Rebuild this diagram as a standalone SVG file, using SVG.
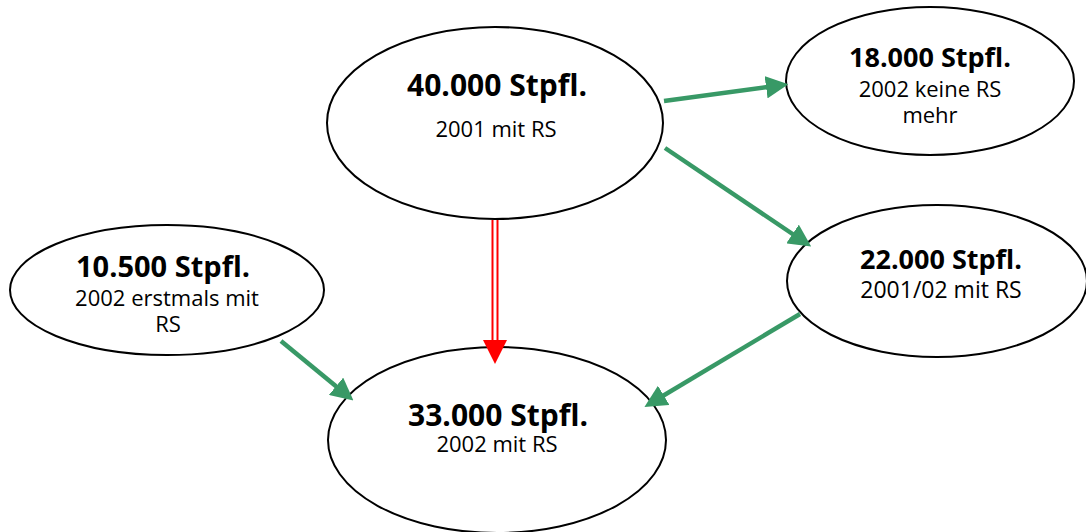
<svg xmlns="http://www.w3.org/2000/svg" width="1086" height="532" viewBox="0 0 1086 532">
<style>
.n{fill:#fff;stroke:#000;stroke-width:2}
.t{font-family:"Open Sans","Noto Sans",sans-serif;fill:#000;text-anchor:middle}
.b{font-weight:bold;font-size:30px}
.b2{font-weight:bold;font-size:27px}
.s{font-size:22px}
.g{stroke:#389966;stroke-width:4.5;fill:none}
</style>
<defs>
<marker id="ag" markerWidth="5" markerHeight="5" refX="2" refY="2.5" orient="auto" markerUnits="strokeWidth">
<path d="M0,0 L5,2.5 L0,5 Z" fill="#389966"/>
</marker>
</defs>
<rect width="1086" height="532" fill="#fff"/>
<g id="n40"><ellipse class="n" cx="495" cy="123" rx="168" ry="96"/>
<text class="t b" x="497" y="96">40.000 Stpfl.</text>
<text class="t s" x="496" y="137">2001 mit RS</text></g>
<g id="n18"><ellipse class="n" cx="930" cy="81" rx="144" ry="74"/>
<text class="t b2" x="930" y="67">18.000 Stpfl.</text>
<text class="t s" x="930" y="97">2002 keine RS</text>
<text class="t s" x="930" y="123">mehr</text></g>
<g id="n22"><ellipse class="n" cx="937" cy="281" rx="150" ry="76"/>
<text class="t b2" x="941" y="269">22.000 Stpfl.</text>
<text class="t s" x="941" y="298" style="font-size:23px">2001/02 mit RS</text></g>
<g id="n105"><ellipse class="n" cx="167" cy="290" rx="157" ry="65"/>
<text class="t b" x="163" y="277" style="font-size:29px">10.500 Stpfl.</text>
<text class="t s" x="167" y="306">2002 erstmals mit</text>
<text class="t s" x="168" y="332">RS</text></g>
<g id="n33"><ellipse class="n" cx="497" cy="440" rx="169" ry="93"/>
<text class="t b" x="498" y="426">33.000 Stpfl.</text>
<text class="t s" x="497" y="452">2002 mit RS</text></g>
<g id="connectors">
<line class="g" x1="664" y1="101" x2="775" y2="86" marker-end="url(#ag)"/>
<line class="g" x1="665" y1="148" x2="800" y2="239" marker-end="url(#ag)"/>
<line class="g" x1="281" y1="341" x2="343" y2="392" marker-end="url(#ag)"/>
<line class="g" x1="800" y1="314" x2="656" y2="400" marker-end="url(#ag)"/>
<line x1="492.5" y1="220" x2="492.5" y2="342" stroke="#f00" stroke-width="2"/>
<line x1="497.5" y1="220" x2="497.5" y2="342" stroke="#f00" stroke-width="2"/>
<path d="M483,340 L507,340 L495,364 Z" fill="#f00"/>
</g>
</svg>
